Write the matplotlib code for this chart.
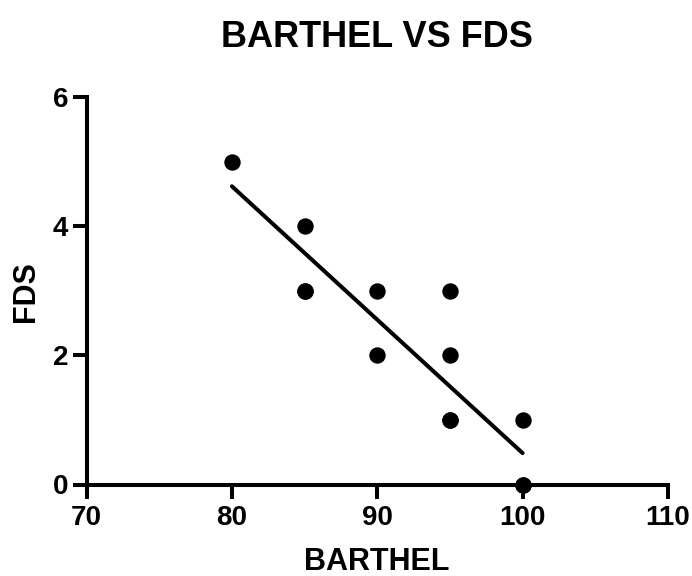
import numpy as np
import matplotlib.pyplot as plt

plt.rcParams['font.family'] = ['Liberation Sans', 'DejaVu Sans']

# BARTHEL index and FDS score per patient (some patients share the same values)
barthel = [80, 85, 85, 85, 90, 90, 95, 95, 95, 95, 100, 100, 100]
fds = [5, 4, 3, 3, 3, 2, 3, 2, 1, 1, 1, 0, 0]

x_ticks = [70, 80, 90, 100, 110]
y_ticks = [0, 2, 4, 6]

slope, intercept = np.polyfit(barthel, fds, 1)
x_fit = np.array([min(barthel), max(barthel)])
y_fit = slope * x_fit + intercept

fig = plt.figure(figsize=(6.92, 5.76), dpi=100)
ax = fig.add_axes([86.5 / 692, 1 - 484.5 / 576, 581.5 / 692, 387.6 / 576])

ax.plot(barthel, fds, 'o', color='black', markersize=10.8, clip_on=False, zorder=3)
ax.plot(x_fit, y_fit, color='black', linewidth=2.9, solid_capstyle='round')

ax.set_xlim(70, 110)
ax.set_ylim(0, 6)
ax.set_xticks(x_ticks)
ax.set_yticks(y_ticks)

for side in ['top', 'right']:
    ax.spines[side].set_visible(False)
for side in ['left', 'bottom']:
    ax.spines[side].set_linewidth(2.9)
    ax.spines[side].set_capstyle('projecting')

ax.tick_params(width=2.9, length=10, labelsize=20)
ax.tick_params(axis='x', pad=5)
ax.tick_params(axis='y', pad=3)
for lbl in ax.get_xticklabels() + ax.get_yticklabels():
    lbl.set_fontweight('bold')

ax.set_xlabel("BARTHEL", fontsize=22, fontweight='bold')
ax.xaxis.label.set_va('baseline')
ax.xaxis.set_label_coords(0.5, (484.5 - 569.5) / 387.6)

ax.set_ylabel("FDS", fontsize=22, fontweight='bold')
ax.yaxis.label.set_va('center')
ax.yaxis.set_label_coords((26 - 86.5) / 581.5, (484.5 - 292) / 387.6)

fig.text(377 / 692, 1 - 46.7 / 576, "BARTHEL VS FDS", fontsize=26,
         fontweight='bold', ha='center', va='baseline')

fig.savefig('out.png', dpi=100)
